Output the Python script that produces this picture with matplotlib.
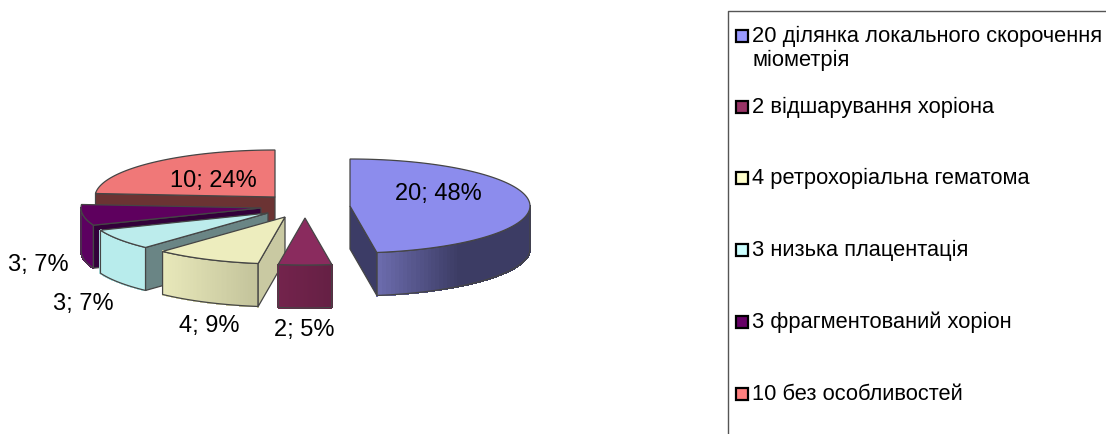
import numpy as np
import matplotlib
matplotlib.use('Agg')
import matplotlib.pyplot as plt
from matplotlib.patches import Polygon, Rectangle
from matplotlib.colors import to_rgb

plt.rcParams['font.family'] = ['Liberation Sans', 'DejaVu Sans']

# Data
values = [20, 2, 4, 3, 3, 10]
percents = [48, 5, 9, 7, 7, 24]
legend_labels = ['20 ділянка локального скорочення', '2 відшарування хоріона',
                 '4 ретрохоріальна гематома', '3 низька плацентація',
                 '3 фрагментований хоріон', '10 без особливостей']
legend_second_line = 'міометрія'

# Styles, one entry per slice
top_colors = ['#8c8ced', '#8a2b5e', '#ededbe', '#bcecec', '#5e005e', '#f07878']
cut_colors = ['#3c3c66', '#6e2348', '#c9c9a2', '#6a8585', '#33003a', '#6b3333']
wall_left = ['#6c6cae', '#73234c', '#e8e8ba', '#b8ecec', '#5c0060', '#6b3333']
wall_right = ['#3c3c64', '#652044', '#c2c29a', '#b8ecec', '#5c0060', '#6b3333']
legend_colors = ['#9999ff', '#993366', '#ffffcc', '#ccffff', '#660066', '#ff8080']

# Layout in pixels
apex_x = [350, 305, 285, 268, 261, 275]
apex_y = [206, 218, 217, 213, 208, 197]
rx = 180
ry = 47
depth = 43
label_x = [438, 304, 209, 83, 38, 213]
label_y = [194, 330, 326, 304, 265, 181]
legend_y = [36, 107, 178, 250, 322, 394]
edge = '#454545'


def rim(cx, cy, angle):
    a = np.radians(angle)
    return np.column_stack([cx + rx * np.sin(a), cy - ry * np.cos(a)])


fig = plt.figure(figsize=(11.06, 4.34), dpi=100)
ax = fig.add_axes([0, 0, 1, 1])
ax.set_xlim(0, 1106)
ax.set_ylim(434, 0)
ax.axis('off')

total = sum(values)
ends = np.cumsum(values) / total * 360
starts = ends - np.array(values) / total * 360

# Back slices first, the big slice last
for i in [5, 4, 3, 2, 1, 0]:
    cx, cy = apex_x[i], apex_y[i]
    a0, a1 = starts[i], ends[i]

    # Outer wall, only its front part shows
    w0, w1 = max(a0, 90), min(a1, 270)
    if w1 > w0:
        angles = np.linspace(w0, w1, 60)
        pts = rim(cx, cy, angles)
        c_left, c_right = np.array(to_rgb(wall_left[i])), np.array(to_rgb(wall_right[i]))
        lo, hi = pts[:, 0].min(), pts[:, 0].max()
        for j in range(len(pts) - 1):
            t = ((pts[j, 0] + pts[j + 1, 0]) / 2 - lo) / (hi - lo)
            if i == 0:
                t = min(t * 1.9, 1)
            col = c_left + (c_right - c_left) * t
            quad = [pts[j], pts[j + 1], pts[j + 1] + [0, depth], pts[j] + [0, depth]]
            ax.add_patch(Polygon(quad, closed=True, fc=col, ec=col, lw=0.8, antialiased=False))
        outline = np.vstack([pts, (pts + [0, depth])[::-1]])
        ax.add_patch(Polygon(outline, closed=True, fc='none', ec=edge, lw=0.9))

    # Cut faces that look towards the viewer
    for angle, visible in [(a1, np.sin(np.radians(a1)) > 0.001), (a0, np.sin(np.radians(a0)) < -0.001)]:
        if visible:
            p = rim(cx, cy, angle)[0]
            face = [[cx, cy], p, p + [0, depth], [cx, cy + depth]]
            ax.add_patch(Polygon(face, closed=True, fc=cut_colors[i], ec=edge, lw=0.9))

    # Top of the slice
    arc = rim(cx, cy, np.linspace(a0, a1, 120))
    top = np.vstack([[cx, cy], arc])
    ax.add_patch(Polygon(top, closed=True, fc=top_colors[i], ec=edge, lw=0.9))

    ax.text(label_x[i], label_y[i], f'{values[i]}; {percents[i]}%', fontsize=17, color='black',
            ha='center', va='center', zorder=10)

# Legend box, runs off the right and bottom of the picture
ax.plot([728, 728, 1106], [434, 10.5, 10.5], color='#555555', lw=1.0, clip_on=False)
for i in range(len(values)):
    ax.add_patch(Rectangle((736, legend_y[i] - 6), 12, 12, fc=legend_colors[i], ec='black', lw=1.6))
    ax.text(752, legend_y[i], legend_labels[i], fontsize=15.75, color='black', ha='left', va='center')
ax.text(752, legend_y[0] + 24, legend_second_line, fontsize=15.75, color='black', ha='left', va='center')

fig.savefig('out.png', dpi=100)
